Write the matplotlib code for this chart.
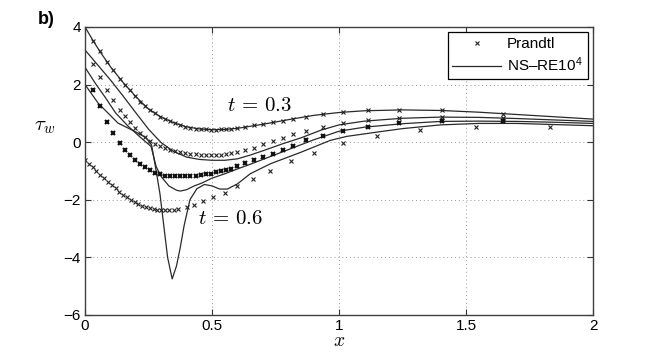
import matplotlib
matplotlib.use("Agg")
import matplotlib.pyplot as plt

plt.rcParams['font.family'] = ['Liberation Sans', 'DejaVu Sans']
plt.rcParams['mathtext.fontset'] = 'cm'

# ---------------- data ----------------
# Prandtl grid (t = 0.3, 0.4, 0.5)
xp = [0.033, 0.059, 0.085, 0.111, 0.138, 0.157, 0.177, 0.197, 0.217, 0.236,
      0.256, 0.276, 0.295, 0.315, 0.335, 0.355, 0.375, 0.395, 0.415, 0.435,
      0.455, 0.475, 0.495, 0.515, 0.535, 0.555, 0.575, 0.60, 0.63, 0.665,
      0.70, 0.74, 0.78, 0.82, 0.87, 0.936, 1.014, 1.112, 1.237, 1.406, 1.646]
p1 = [3.52, 3.15, 2.80, 2.50, 2.20, 2.00, 1.80, 1.60, 1.41, 1.26,
      1.12, 1.00, 0.89, 0.80, 0.72, 0.65, 0.59, 0.54, 0.50, 0.47,
      0.45, 0.44, 0.43, 0.43, 0.44, 0.45, 0.47, 0.49, 0.53, 0.58,
      0.63, 0.69, 0.75, 0.82, 0.89, 0.97, 1.04, 1.10, 1.12, 1.10, 0.98]
p2 = [2.70, 2.25, 1.82, 1.45, 1.12, 0.90, 0.70, 0.50, 0.32, 0.17,
      0.05, -0.05, -0.13, -0.20, -0.26, -0.31, -0.35, -0.38, -0.40, -0.42,
      -0.43, -0.44, -0.44, -0.44, -0.43, -0.41, -0.39, -0.35, -0.29, -0.21,
      -0.08, 0.04, 0.16, 0.28, 0.40, 0.52, 0.66, 0.76, 0.85, 0.87, 0.83]
p3 = [1.81, 1.25, 0.70, 0.31, -0.02, -0.27, -0.44, -0.61, -0.75, -0.86,
      -0.97, -1.07, -1.12, -1.16, -1.18, -1.19, -1.19, -1.19, -1.18, -1.17,
      -1.15, -1.12, -1.09, -1.05, -1.01, -0.97, -0.92, -0.84, -0.74, -0.63,
      -0.52, -0.40, -0.28, -0.14, 0.06, 0.22, 0.37, 0.52, 0.66, 0.72, 0.74]
# Prandtl t = 0.6
xp4 = [0.0, 0.015, 0.03, 0.045, 0.06, 0.075, 0.09, 0.105, 0.12, 0.135,
       0.15, 0.165, 0.18, 0.195, 0.21, 0.225, 0.24, 0.255, 0.27, 0.285,
       0.30, 0.315, 0.33, 0.35, 0.367, 0.40, 0.427, 0.466, 0.505, 0.55,
       0.60, 0.66, 0.73, 0.81, 0.90, 1.014, 1.15, 1.32, 1.54, 1.83]
p4 = [-0.62, -0.75, -0.88, -1.01, -1.14, -1.26, -1.38, -1.50, -1.61, -1.72,
      -1.82, -1.92, -2.01, -2.08, -2.15, -2.21, -2.26, -2.30, -2.33, -2.35,
      -2.36, -2.36, -2.35, -2.34, -2.32, -2.25, -2.18, -2.06, -1.92, -1.75,
      -1.54, -1.27, -1.00, -0.67, -0.37, -0.04, 0.22, 0.43, 0.54, 0.54]

# Navier-Stokes, Re = 1e4
xn1 = [0, 0.03, 0.06, 0.1, 0.15, 0.2, 0.25, 0.3, 0.35, 0.4, 0.45, 0.5, 0.55,
       0.6, 0.7, 0.8, 0.9, 1.0, 1.1, 1.25, 1.4, 1.55, 1.7, 1.85, 2.0]
n1 = [4.0, 3.55, 3.13, 2.62, 2.07, 1.58, 1.15, 0.87, 0.67, 0.53, 0.46, 0.43, 0.44,
      0.48, 0.62, 0.78, 0.93, 1.03, 1.09, 1.12, 1.10, 1.04, 0.96, 0.88, 0.80]
xn2 = [0, 0.05, 0.1, 0.15, 0.2, 0.25, 0.3, 0.35, 0.4, 0.45, 0.5, 0.55, 0.6,
       0.65, 0.7, 0.78, 0.85, 0.93, 1.0, 1.1, 1.25, 1.4, 1.55, 1.7, 1.85, 2.0]
n2 = [3.2, 2.68, 2.16, 1.6, 1.02, 0.45, -0.02, -0.33, -0.52, -0.6, -0.63, -0.63, -0.58,
      -0.45, -0.3, -0.05, 0.15, 0.42, 0.6, 0.73, 0.83, 0.87, 0.86, 0.82, 0.77, 0.72]
xn3 = [0, 0.04, 0.08, 0.12, 0.17, 0.22, 0.26, 0.28, 0.3, 0.33, 0.36, 0.375, 0.4,
       0.43, 0.46, 0.5, 0.55, 0.6, 0.65, 0.7, 0.8, 0.9, 1.0, 1.1, 1.25, 1.4, 1.55,
       1.7, 1.85, 2.0]
n3 = [2.6, 2.05, 1.55, 1.02, 0.55, 0.15, -0.15, -0.85, -1.2, -1.52, -1.67, -1.7, -1.65,
      -1.52, -1.42, -1.25, -1.1, -0.93, -0.77, -0.6, -0.26, 0.08, 0.38, 0.52, 0.64, 0.72,
      0.73, 0.72, 0.69, 0.65]
xn4 = [0, 0.052, 0.13, 0.197, 0.24, 0.262, 0.28, 0.295, 0.31, 0.325, 0.343, 0.36,
       0.374, 0.39, 0.413, 0.44, 0.47, 0.5, 0.53, 0.56, 0.6, 0.65, 0.73, 0.85, 0.965,
       1.03, 1.15, 1.25, 1.4, 1.55, 1.7, 1.85, 2.0]
n4 = [2.0, 1.35, 0.66, 0.37, 0.15, -0.1, -1.0, -1.8, -2.9, -4.0, -4.75, -4.3,
      -3.7, -2.9, -2.0, -1.62, -1.47, -1.52, -1.63, -1.63, -1.45, -1.1, -0.75, -0.35, 0.06,
      0.2, 0.35, 0.47, 0.6, 0.65, 0.65, 0.61, 0.57]

xticks = [0, 0.5, 1, 1.5, 2]
xticklabels = ['0', '0.5', '1', '1.5', '2']
yticks = [-6, -4, -2, 0, 2, 4]
yticklabels = ['\u22126', '\u22124', '\u22122', '0', '2', '4']

# ---------------- figure ----------------
fig = plt.figure(figsize=(6.54, 3.55), dpi=100)
ax = fig.add_axes([0.130, 0.113, 0.777, 0.811])

lc = '#2a2a2a'
mc = '#222222'
for xs, ys in [(xn1, n1), (xn2, n2), (xn3, n3), (xn4, n4)]:
    ax.plot(xs, ys, '-', color=lc, lw=0.9)

mk = dict(linestyle='none', marker='x', color=mc, markersize=3.2, markeredgewidth=0.8)
ax.plot(xp, p1, **mk)
ax.plot(xp, p2, **mk)
ax.plot(xp, p3, linestyle='none', marker='x', color='#111111', markersize=3.4, markeredgewidth=1.5)
ax.plot(xp4, p4, **mk)

# legend proxies
hp, = ax.plot([], [], linestyle='none', marker='x', color=mc, markersize=3.2, markeredgewidth=0.8)
hl, = ax.plot([], [], '-', color=lc, lw=0.9)
leg = ax.legend([hp, hl], ['Prandtl', 'NS\u2013RE10$^{\\mathregular{4}}$'],
                loc='upper right', fontsize=11, fancybox=False, framealpha=1,
                edgecolor='black', handlelength=3.2, borderpad=0.3,
                labelspacing=0.3, handletextpad=0.4, borderaxespad=0.35)
leg.get_frame().set_linewidth(0.9)

ax.set_xlim(0, 2)
ax.set_ylim(-6, 4)
ax.set_xticks(xticks)
ax.set_xticklabels(xticklabels, fontsize=11)
ax.set_yticks(yticks)
ax.set_yticklabels(yticklabels, fontsize=11)
ax.tick_params(direction='in', top=True, right=True, length=4, width=0.8,
               colors='#333333', labelcolor='black', pad=3)
ax.grid(True, linestyle=(0, (1, 3)), color='#999999', lw=0.7)
for s in ax.spines.values():
    s.set_color('#404040')
    s.set_linewidth(1.0)

ax.text(0.559, 1.26, '$t\\,=\\,0.3$', fontsize=15, va='center', ha='left')
ax.text(0.445, -2.66, '$t\\,=\\,0.6$', fontsize=15, va='center', ha='left')

fig.text(38 / 654, 1 - 20 / 355, 'b)', fontsize=13, fontweight='bold', va='center', ha='left')
fig.text(45 / 654, 1 - 126 / 355, '$\\tau_w$', fontsize=15, va='center', ha='center')
fig.text(339 / 654, 1 - 341 / 355, '$x$', fontsize=14, va='center', ha='center')

fig.savefig('out.png', dpi=100)
